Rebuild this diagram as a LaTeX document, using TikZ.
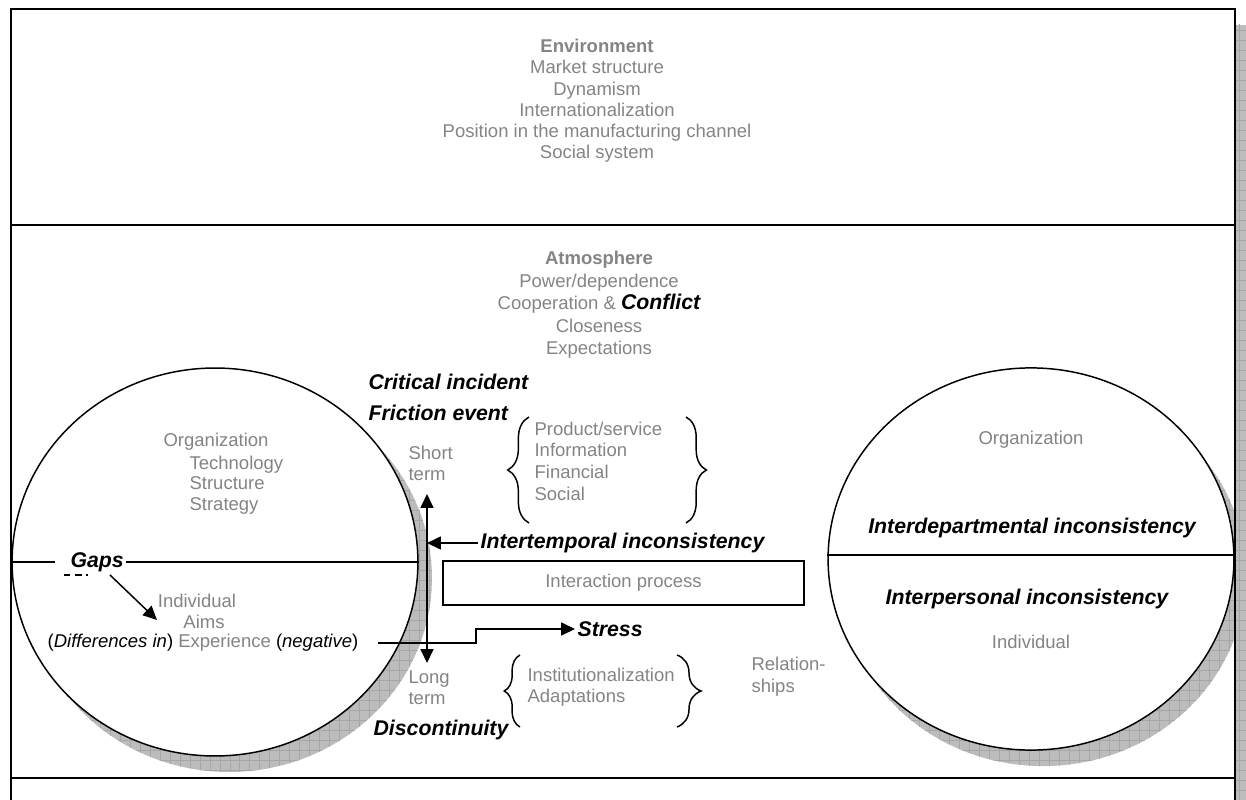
\documentclass[tikz,border=0pt]{standalone}
\usepackage{fontspec}
\setmainfont{Liberation Sans}
\usepackage{xcolor}
\usepackage{tikz}
\usetikzlibrary{shapes.geometric, arrows.meta, positioning, calc, decorations.pathreplacing, patterns}

\definecolor{txtgray}{RGB}{132,132,132}
\definecolor{shadowgray}{RGB}{188,188,188}

\pgfdeclarepatternformonly{shadegrid}{\pgfqpoint{-0.5pt}{-0.5pt}}{\pgfqpoint{5.9pt}{5.9pt}}{\pgfqpoint{5.4pt}{5.4pt}}{
  \pgfsetlinewidth{0.3pt}
  \pgfpathmoveto{\pgfqpoint{0pt}{0pt}}\pgfpathlineto{\pgfqpoint{5.4pt}{0pt}}
  \pgfpathmoveto{\pgfqpoint{0pt}{0pt}}\pgfpathlineto{\pgfqpoint{0pt}{5.4pt}}
  \pgfusepath{stroke}}

\begin{document}
\begin{tikzpicture}[x=0.019cm, y=-0.019cm, >={Triangle[length=7.5pt, width=7pt]}, line width=0.8pt]
  \tikzstyle{gtext} = [text=txtgray, font=\fontsize{10}{11.5}\selectfont, inner sep=1pt]
  \tikzstyle{btext} = [text=black, font=\fontsize{11.5}{13.8}\selectfont\bfseries\itshape, inner sep=1pt]
  \tikzstyle{shade} = [preaction={fill=shadowgray}, pattern=shadegrid, pattern color=gray!70]
  \tikzstyle{party} = [ellipse, draw, fill=white, inner sep=0pt, minimum width=7.71cm]
  \tikzstyle{partyshade} = [ellipse, shade, inner sep=0pt, minimum width=7.71cm]

  \useasboundingbox (0,0) rectangle (1246,800);
  \clip (0,0) rectangle (1246,800);

  \path[shade] (1236,25) rectangle (1246,830);
  \node[partyshade, minimum height=7.37cm] (LeftShade) at (229,578) {};
  \node[partyshade, minimum height=7.26cm] (RightShade) at (1043,575) {};

  \draw[line width=1.2pt] (11,9) rectangle (1235,830);
  \draw[line width=1.2pt] (11,225) -- (1235,225);
  \draw[line width=1.2pt] (11,778) -- (1235,778);

  \node[gtext, align=center] (Environment) at (597,101) {\textbf{Environment}\\Market structure\\Dynamism\\Internationalization\\Position in the manufacturing channel\\Social system};
  \node[gtext, align=center, font=\fontsize{10}{12.2}\selectfont] (Atmosphere) at (599,305) {\textbf{Atmosphere}\\Power/dependence\\Cooperation \& {\color{black}\fontsize{11.5}{12.2}\selectfont\bfseries\itshape Conflict}\\Closeness\\Expectations};

  \node[party, minimum height=7.37cm] (LeftParty) at (215,562) {};
  \node[party, minimum height=7.26cm] (RightParty) at (1031,559) {};

  \node[gtext, anchor=west] (LeftOrg) at (161,442) {Organization};
  \node[gtext, anchor=west, align=left, font=\fontsize{10}{11.2}\selectfont] (LeftOrgItems) at (187,485) {Technology\\Structure\\Strategy};
  \node[btext, anchor=west] (Gaps) at (68,562) {Gaps};
  \draw (LeftParty.west) -- ($(Gaps.west)+(-13,0)$);
  \draw (Gaps.east) -- (LeftParty.east);
  \draw[line width=0.6pt, dash pattern=on 3.5pt off 2.5pt] (64,575) -- (88,575);
  \node[gtext] (LeftInd) at (197,601) {Individual};
  \node[gtext] (LeftAims) at (204,622) {Aims};
  \node[gtext] (LeftExp) at (203,643) {{\color{black}(\textit{Differences in})} Experience {\color{black}(\textit{negative})}};
  \coordinate (GapsFrom) at (110,575);
  \coordinate (GapsTo) at (157,620);
  \draw[->] (GapsFrom) -- (GapsTo);

  \node[btext, anchor=west] (Critical) at (366,382) {Critical incident};
  \node[btext, below=0.59cm of Critical.west, anchor=west] (Friction) {Friction event};
  \node[gtext, anchor=west, align=left, font=\fontsize{10}{11.4}\selectfont] (ShortTerm) at (406,463) {Short\\term};
  \node[gtext, anchor=west, align=left, font=\fontsize{10}{11.4}\selectfont] (LongTerm) at (406,688) {Long\\term};
  \node[btext, anchor=west] (Discontinuity) at (371,730) {Discontinuity};
  \coordinate (TermTop) at (427,494);
  \coordinate (TermBottom) at (427,663);
  \draw[<->] (TermTop) -- (TermBottom);
  \node[btext, anchor=west] (Intertemporal) at (478,543) {Intertemporal inconsistency};
  \draw[->] (Intertemporal.west) -- (Intertemporal.west -| TermTop);

  \node[gtext, anchor=west, align=left, font=\fontsize{10}{11.7}\selectfont] (Flows) at (532,461) {Product/service\\Information\\Financial\\Social};
  \draw[decorate, decoration={brace, amplitude=11.5pt}] (529,523) -- (529,417);
  \draw[decorate, decoration={brace, amplitude=11pt}] (686,417) -- (686,523);

  \node[draw, gtext, minimum width=6.86cm, minimum height=0.84cm] (Interaction) at (623.5,583) {Interaction process};

  \node[btext, anchor=west] (Stress) at (575,629) {Stress};
  \coordinate (StressFrom) at (378,643);
  \draw[->] (StressFrom) -- ++(98,0) |- (Stress.west);

  \node[gtext, anchor=west, align=left, font=\fontsize{10}{11.3}\selectfont] (Bonds) at (525,687) {Institutionalization\\Adaptations};
  \draw[decorate, decoration={brace, amplitude=8.5pt}] (520,727) -- (520,655);
  \draw[decorate, decoration={brace, amplitude=13pt}] (677,655) -- (677,727);
  \node[gtext, anchor=west, align=left, font=\fontsize{10}{11.9}\selectfont] (Relationships) at (749,677) {Relation-\\ships};

  \node[gtext] (RightOrg) at (1031,440) {Organization};
  \node[btext] (Interdepartmental) at (1032,528) {Interdepartmental inconsistency};
  \draw ($(RightParty.west)+(0,-4)$) -- ($(RightParty.east)+(0,-4)$);
  \node[btext] (Interpersonal) at (1027,599) {Interpersonal inconsistency};
  \node[gtext] (RightInd) at (1031,642) {Individual};
\end{tikzpicture}
\end{document}
